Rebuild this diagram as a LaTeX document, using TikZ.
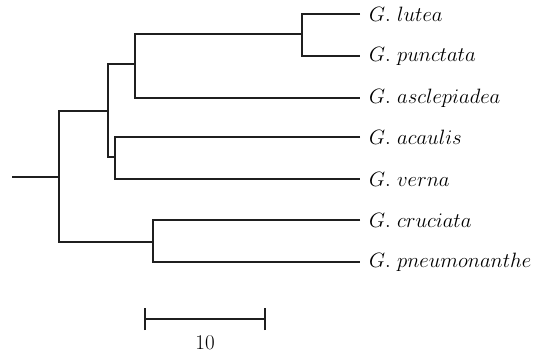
\documentclass[tikz,border=0pt]{standalone}
\begin{document}
\begin{tikzpicture}[x=1pt,y=-1pt,
  br/.style={line width=2.8pt,color=black!88},
  sb/.style={line width=2.4pt,color=black!88},
  lab/.style={anchor=west,inner sep=0pt,font=\fontsize{21}{24}\selectfont}]
\useasboundingbox (0,0) rectangle (536,356);
% internal nodes
\coordinate (r0) at (12,177);
\coordinate (n1) at (59,177);
\coordinate (n2) at (108,111);
\coordinate (n3) at (135,64);
\coordinate (n4) at (302,34);
\coordinate (n5) at (115,157);
\coordinate (n6) at (153,242);
% leaf ends
\coordinate (e1) at (360,14);
\coordinate (e2) at (360,56);
\coordinate (e3) at (360,98);
\coordinate (e4) at (360,137);
\coordinate (e5) at (360,179);
\coordinate (e6) at (360,220);
\coordinate (e7) at (360,262);
% labels
\node[lab] (t1) at (369,14) {$G.\ lutea$};
\node[lab] (t2) at (369,56) {$G.\ punctata$};
\node[lab] (t3) at (369,98) {$G.\ asclepiadea$};
\node[lab] (t4) at (369,137) {$G.\ acaulis$};
\node[lab] (t5) at (369,179) {$G.\ verna$};
\node[lab] (t6) at (369,220) {$G.\ cruciata$};
\node[lab] (t7) at (369,262) {$G.\ pneumonanthe$};
% branches
\draw[br] (r0) -- (n1);
\draw[br] (n2) -| (n1) |- (n6);
\draw[br] (n3) -| (n2) |- (n5);
\draw[br] (n4) -| (n3) |- (e3);
\draw[br] (e1) -| (n4) |- (e2);
\draw[br] (e4) -| (n5) |- (e5);
\draw[br] (e6) -| (n6) |- (e7);
% scale bar
\coordinate (s1) at (145,319);
\coordinate (s2) at (265,319);
\draw[sb] (s1) -- (s2);
\draw[sb] ([yshift=-11pt]s1) -- ([yshift=11pt]s1);
\draw[sb] ([yshift=-11pt]s2) -- ([yshift=11pt]s2);
\node[font=\fontsize{21}{24}\selectfont,inner sep=0pt] (sl) at (205,343) {10};
\end{tikzpicture}
\end{document}
